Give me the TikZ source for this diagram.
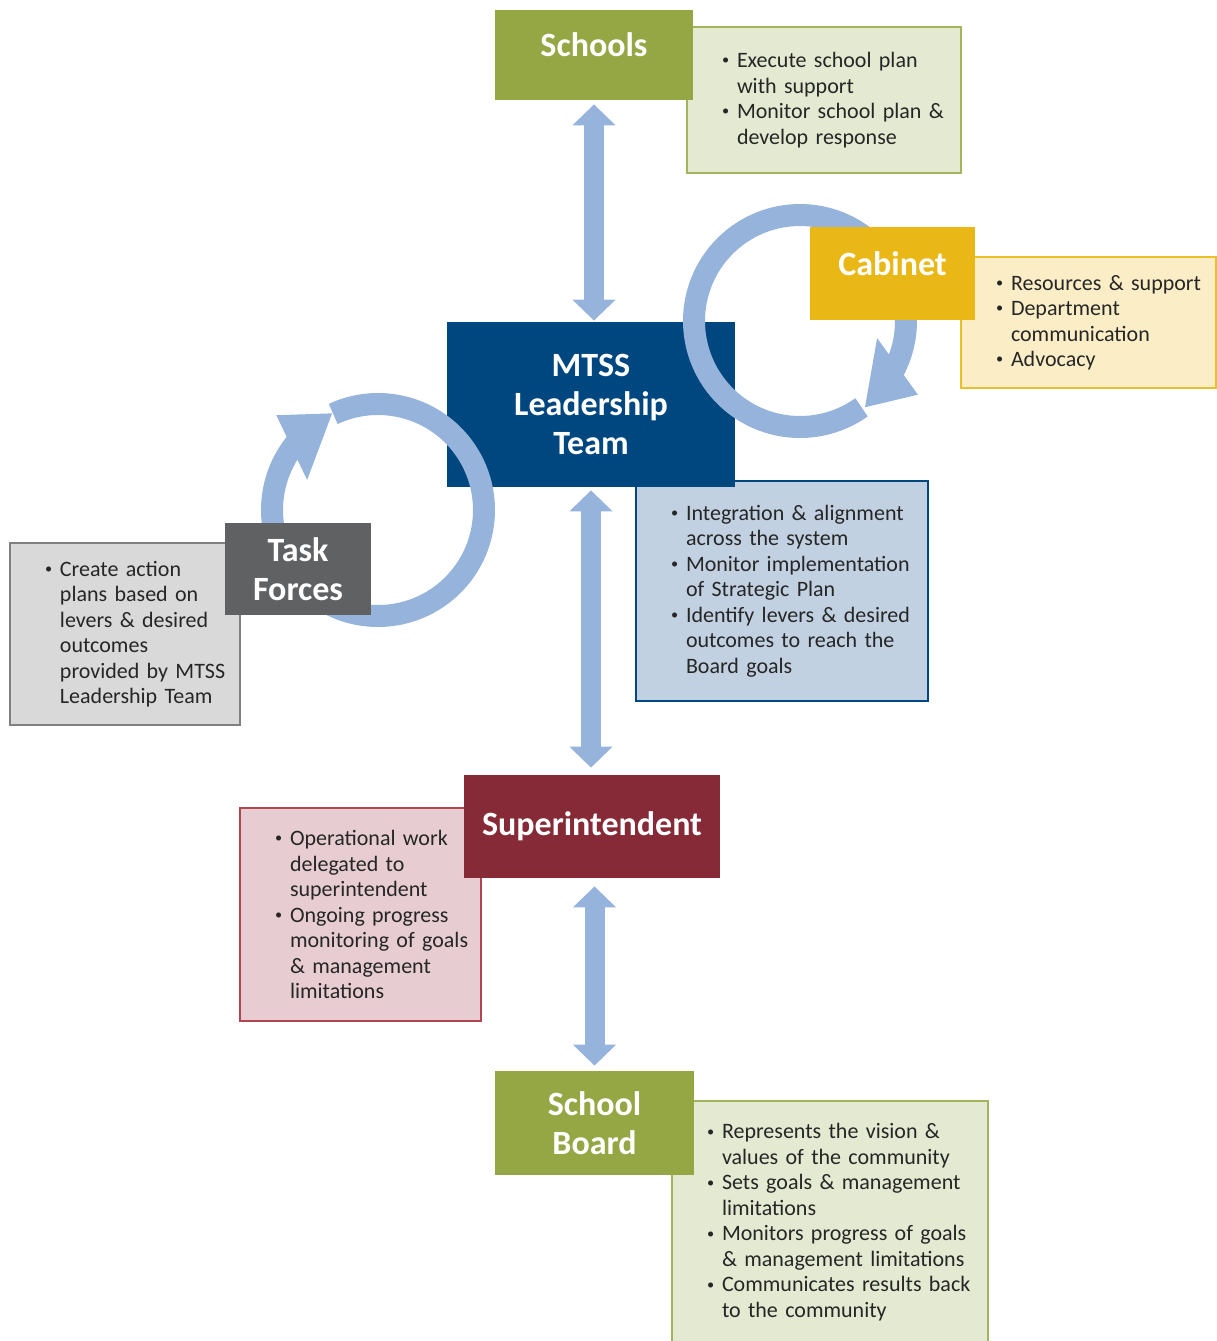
\documentclass[tikz,border=0pt]{standalone}
\usepackage{fontspec}
\setmainfont{Carlito}
\usetikzlibrary{arrows.meta, positioning}
\definecolor{olive}{HTML}{95A645}
\definecolor{olivelt}{HTML}{E4E9D1}
\definecolor{oliveln}{HTML}{A3B45E}
\definecolor{navy}{HTML}{00467F}
\definecolor{navylt}{HTML}{C1D1E1}
\definecolor{gold}{HTML}{E9B817}
\definecolor{goldlt}{HTML}{FBEEC7}
\definecolor{goldln}{HTML}{EBBE2D}
\definecolor{slate}{HTML}{606163}
\definecolor{slatelt}{HTML}{D9D9D9}
\definecolor{slateln}{HTML}{808080}
\definecolor{maroon}{HTML}{852A36}
\definecolor{maroonlt}{HTML}{E7CDD1}
\definecolor{maroonln}{HTML}{B0464F}
\definecolor{ringblue}{HTML}{95B3DB}
\definecolor{txtgray}{HTML}{262626}

\tikzset{
  head/.style={font=\fontsize{17}{19.5}\selectfont\bfseries, text=white, align=center, inner sep=0pt},
  desc/.style={font=\fontsize{11}{12.75}\selectfont, text=txtgray, align=left, inner sep=0pt, line width=1pt},
  dblarrow/.style={draw=ringblue, line width=10pt,
    {Triangle[width=21pt,length=10.5pt]}-{Triangle[width=21pt,length=10.5pt]}},
  ring/.style={draw=ringblue, line width=11pt},
}
% bullet line and continuation line
\newcommand{\bulln}[1]{\makebox[8.5pt][l]{\hspace{1pt}\raisebox{0.25ex}{\scalebox{0.65}{\textbullet}}}\mbox{#1}}
\newcommand{\contln}[1]{\hspace*{8.5pt}\mbox{#1}}

\begin{document}
\begin{tikzpicture}[x=0.5pt, y=-0.5pt]
\useasboundingbox (0,0) rectangle (1217,1341);

% Description boxes
\node[desc, fill=olivelt, draw=oliveln, minimum width=137pt, minimum height=73pt, text width=104pt]
  (schoolsDesc) at (824,100)
  {\bulln{Execute school plan}\\\contln{with support}\\\bulln{Monitor school plan \&}\\\contln{develop response}};
\node[desc, fill=goldlt, draw=goldln, minimum width=127.5pt, minimum height=65.5pt, text width=94.5pt]
  (cabinetDesc) at (1088.5,322.5)
  {\bulln{Resources \& support}\\\bulln{Department}\\\contln{communication}\\\bulln{Advocacy}};
\node[desc, fill=navylt, draw=navy, minimum width=146pt, minimum height=110pt, text width=113pt]
  (mtssDesc) at (782,591)
  {\bulln{Integration \& alignment}\\\contln{across the system}\\\bulln{Monitor implementation}\\\contln{of Strategic Plan}\\\bulln{Identify levers \& desired}\\\contln{outcomes to reach the}\\\contln{Board goals}};
\node[desc, fill=slatelt, draw=slateln, minimum width=115pt, minimum height=91pt, text width=82pt]
  (tfDesc) at (125,634)
  {\bulln{Create action}\\\contln{plans based on}\\\contln{levers \& desired}\\\contln{outcomes}\\\contln{provided by MTSS}\\\contln{Leadership Team}};
\node[desc, fill=maroonlt, draw=maroonln, minimum width=120.5pt, minimum height=106.5pt, text width=87.5pt]
  (superDesc) at (360.5,914.5)
  {\bulln{Operational work}\\\contln{delegated to}\\\contln{superintendent}\\\bulln{Ongoing progress}\\\contln{monitoring of goals}\\\contln{\& management}\\\contln{limitations}};
\node[desc, fill=olivelt, draw=oliveln, minimum width=158pt, minimum height=121pt, text width=125pt]
  (boardDesc) at (830,1222)
  {\bulln{Represents the vision \&}\\\contln{values of the community}\\\bulln{Sets goals \& management}\\\contln{limitations}\\\bulln{Monitors progress of goals}\\\contln{\& management limitations}\\\bulln{Communicates results back}\\\contln{to the community}};

% MTSS box sits under the rings
\node[head, fill=navy, minimum width=144pt, minimum height=82.5pt] (mtss) at (591,404.5)
  {MTSS\\Leadership\\Team};

% Cabinet cycle
\begin{scope}[shift={(800,321)}]
  \draw[ring] plot[domain=54.5:388, samples=140] (\x:106);
  \fill[ringblue] (12.5:79) -- (32:139) -- (53:108) -- cycle;
\end{scope}

% Task Forces cycle
\begin{scope}[shift={(378,510)}]
  \draw[ring] plot[domain=-115:219.5, samples=140] (\x:106);
  \fill[ringblue] (203:77) -- (223:139) -- (244.6:107) -- cycle;
\end{scope}

% Headings
\node[head, fill=olive, minimum width=99pt, minimum height=45pt, text depth=10pt] (schools) at (594,55) {Schools};
\node[head, fill=gold, minimum width=82.5pt, minimum height=46.5pt, text depth=10pt] (cabinet) at (892.5,273.5) {Cabinet};
\node[head, fill=slate, minimum width=73pt, minimum height=46pt] (taskf) at (298,569) {Task\\Forces};
\node[head, fill=maroon, minimum width=128pt, minimum height=51.5pt] (super) at (592,826.5) {Superintendent};
\node[head, fill=olive, minimum width=99.5pt, minimum height=52pt] (board) at (594.5,1123) {School\\Board};

% Two-way links
\draw[dblarrow, shorten <=2pt, shorten >=0.5pt] (schools.south) -- (schools.south |- mtss.north);
\draw[dblarrow, shorten <=1.5pt, shorten >=3.5pt] (mtss.south) -- (mtss.south |- super.north);
\draw[dblarrow, shorten <=4pt, shorten >=2.5pt] (super.south -| board.north) -- (board.north);

\end{tikzpicture}
\end{document}
